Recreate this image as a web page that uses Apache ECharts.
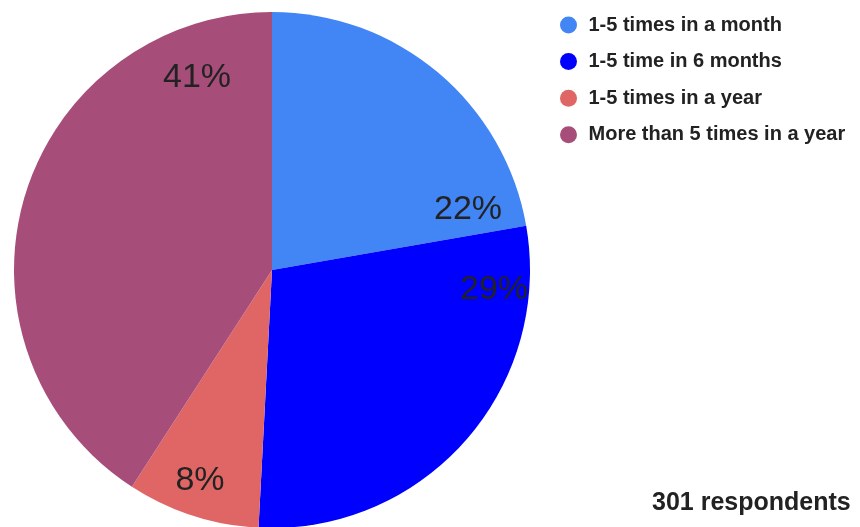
<!DOCTYPE html>
<html>
<head>
<meta charset="utf-8">
<script src="https://cdn.jsdelivr.net/npm/echarts@6/dist/echarts.min.js"></script>
<style>html,body{margin:0;padding:0;background:#fff;}#c{width:860px;height:527px;}</style>
</head>
<body>
<div id="c"></div>
<script>
var categories = ['1-5 times in a month', '1-5 time in 6 months', '1-5 times in a year', 'More than 5 times in a year'];
var counts = [67, 86, 25, 123];
var colors = ['#4285F4', '#0000FF', '#E06666', '#A64D79'];
var note = '301 respondents';
// label anchor points (pixels) matching the original's placement
var labelSpots = [[468, 210], [494, 290], [200, 481], [197, 78]];

var chart = echarts.init(document.getElementById('c'));
chart.setOption({
  animation: false,
  title: {
    text: note, left: 652, top: 491, padding: 0,
    textStyle: { fontFamily: 'Liberation Sans, Arial', fontWeight: 'bold', fontSize: 25, lineHeight: 25, color: '#222' }
  },
  legend: {
    orient: 'vertical', left: 560, top: 15, padding: 0,
    icon: 'circle', itemWidth: 30, itemHeight: 17, itemGap: 16.6,
    textStyle: { fontFamily: 'Liberation Sans, Arial', fontWeight: 'bold', fontSize: 20, lineHeight: 20, color: '#222' },
    data: categories
  },
  series: [{
    type: 'pie',
    center: [272, 270],
    radius: 258,
    startAngle: 90,
    clockwise: true,
    color: colors,
    itemStyle: { borderWidth: 0 },
    label: {
      show: true, position: 'inside',
      fontFamily: 'Liberation Sans, Arial', fontSize: 34, color: '#222',
      formatter: function (p) { return Math.round(p.percent) + '%'; }
    },
    labelLine: { show: false },
    labelLayout: function (p) {
      var s = labelSpots[p.dataIndex];
      return { x: s[0], y: s[1], align: 'center', verticalAlign: 'middle' };
    },
    data: categories.map(function (c, i) { return { name: c, value: counts[i] }; })
  }]
});
</script>
</body>
</html>
